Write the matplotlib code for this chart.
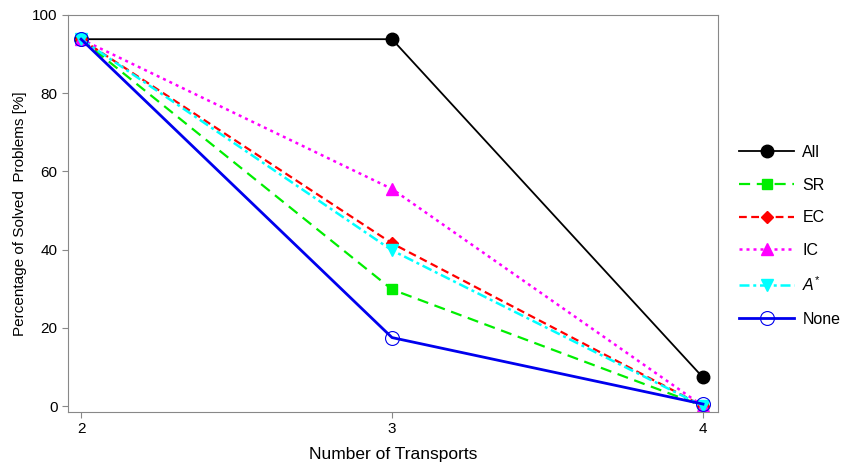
import matplotlib
matplotlib.use('Agg')
import matplotlib.pyplot as plt

plt.rcParams['font.family'] = ['Liberation Sans', 'DejaVu Sans']
plt.rcParams['mathtext.fontset'] = 'custom'
plt.rcParams['mathtext.it'] = 'Liberation Sans:italic'
plt.rcParams['mathtext.rm'] = 'Liberation Sans'

# --- data
transports = [2, 3, 4]
all_vals = [93.8, 93.8, 7.3]
sr_vals = [93.8, 29.8, 0.0]
ec_vals = [93.8, 41.6, 0.0]
ic_vals = [93.8, 55.5, 0.0]
astar_vals = [93.8, 39.8, 0.0]
none_vals = [93.8, 17.5, 0.5]

series = [
    ('All', all_vals, dict(color='black', linestyle='-', marker='o', markersize=9, linewidth=1.3)),
    ('SR', sr_vals, dict(color='#00ee00', linestyle=(0, (5, 3)), marker='s', markersize=7, linewidth=1.6)),
    ('EC', ec_vals, dict(color='red', linestyle=(0, (3.5, 2)), marker='D', markersize=6.5, linewidth=1.6)),
    ('IC', ic_vals, dict(color='#ff00ff', linestyle=(0, (1.2, 1.6)), marker='^', markersize=8, linewidth=1.8)),
    (r'$A^{*}$', astar_vals, dict(color='cyan', linestyle=(0, (4, 1.5, 1.2, 1.5)), marker='v', markersize=8, linewidth=1.8)),
    ('None', none_vals, dict(color='#0000ee', linestyle='-', marker='o', markersize=10, linewidth=2.0,
                             markerfacecolor='none', markeredgewidth=0.8)),
]

fig = plt.figure(figsize=(8.44, 4.67), dpi=100)
ax = fig.add_axes([0.0806, 0.118, 0.77, 0.85])

for label, vals, style in series:
    ax.plot(transports, vals, label=label, **style)

ax.set_xlim(1.958, 4.048)
ax.set_ylim(-1.5, 100)
ax.set_xticks([2, 3, 4])
ax.set_yticks([0, 20, 40, 60, 80, 100])
ax.set_xlabel('Number of Transports', fontsize=12.5, labelpad=8)
ax.set_ylabel('Percentage of Solved  Problems [%]', fontsize=11)
ax.tick_params(labelsize=11, color='#888888', length=4, width=0.8)
for sp in ax.spines.values():
    sp.set_color('#888888')
    sp.set_linewidth(0.8)

ax.legend(loc='center left', bbox_to_anchor=(0.859, 0.495), bbox_transform=fig.transFigure,
          frameon=False, fontsize=11.5, handlelength=3.4, labelspacing=1.1, handletextpad=0.55)

fig.savefig('out.png', dpi=100)
